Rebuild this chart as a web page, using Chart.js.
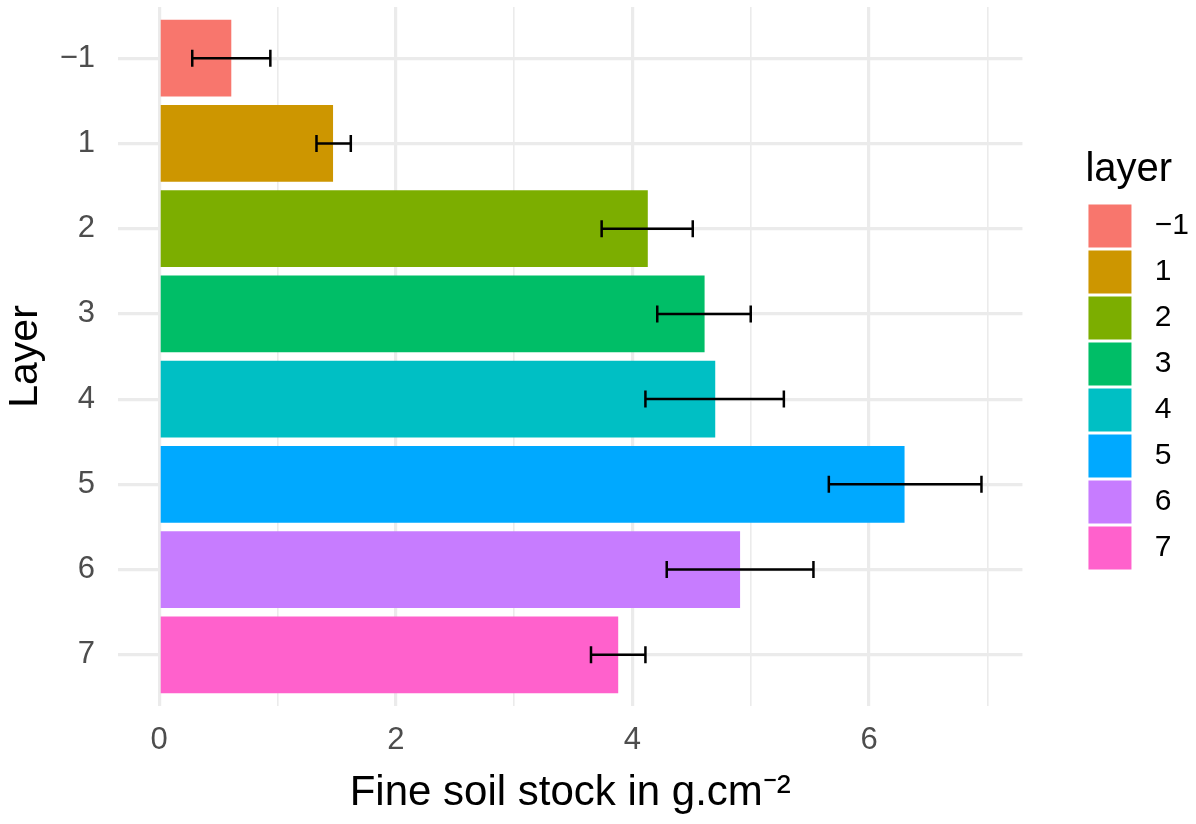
<!DOCTYPE html>
<html>
<head>
<meta charset="utf-8">
<script src="https://cdn.jsdelivr.net/npm/chart.js@4"></script>
<style>
  html, body { margin: 0; padding: 0; background: #fff; }
  #wrap { width: 1196px; height: 824px; }
</style>
</head>
<body>
<div id="wrap"><canvas id="stockChart"></canvas></div>
<script>
// Fine soil stock per layer, mean with error bars

const layers = ['\u22121', '1', '2', '3', '4', '5', '6', '7'];
const stock = [0.61, 1.47, 4.13, 4.61, 4.70, 6.30, 4.91, 3.88];
const errLow = [0.28, 1.33, 3.74, 4.21, 4.11, 5.66, 4.29, 3.65];
const errHigh = [0.94, 1.62, 4.51, 5.00, 5.28, 6.95, 5.53, 4.11];
const xTicks = [0, 1, 2, 3, 4, 5, 6, 7];
const colors = ['#F8766D', '#CD9600', '#7CAE00', '#00BE67', '#00BFC4', '#00A9FF', '#C77CFF', '#FF61CC'];

const FONT = "'Liberation Sans', Arial, sans-serif";
const GRID = '#EBEBEB';

// draws the horizontal error bars on top of the bars
const errorBars = {
  id: 'errorBars',
  afterDatasetsDraw(chart) {
    const { ctx, scales: { x, y } } = chart;
    ctx.save();
    ctx.strokeStyle = '#000';
    ctx.lineWidth = 2.5;
    for (let i = 0; i < layers.length; i++) {
      const x0 = x.getPixelForValue(errLow[i]);
      const x1 = x.getPixelForValue(errHigh[i]);
      const yc = y.getPixelForValue(i);
      ctx.beginPath();
      ctx.moveTo(x0, yc); ctx.lineTo(x1, yc);
      ctx.moveTo(x0, yc - 8.5); ctx.lineTo(x0, yc + 8.5);
      ctx.moveTo(x1, yc - 8.5); ctx.lineTo(x1, yc + 8.5);
      ctx.stroke();
    }
    ctx.restore();
  }
};

document.addEventListener('DOMContentLoaded', () => {
  const el = document.getElementById('stockChart');
  if (!el) return;

  new Chart(el, {
    type: 'bar',
    data: {
      datasets: [{
        label: 'layer',
        data: stock.map((v, i) => ({ x: v, y: i })),
        backgroundColor: colors,
        borderWidth: 0,
        barPercentage: 0.9,
        categoryPercentage: 1
      }]
    },
    plugins: [errorBars],
    options: {
      indexAxis: 'y',
      responsive: true,
      maintainAspectRatio: false,
      animation: false,
      layout: { padding: { left: 0, right: -3, top: 7, bottom: 0 } },
      plugins: {
        tooltip: { enabled: false },
        legend: {
          position: 'right',
          fullSize: false,
          align: 'center',
          title: {
            display: true,
            text: 'layer',
            position: 'start',
            color: '#000',
            font: { family: FONT, size: 40 },
            padding: { top: 9, bottom: 4 }
          },
          labels: {
            boxWidth: 43,
            boxHeight: 43,
            padding: 3,
            color: '#000',
            font: { family: FONT, size: 30 },
            generateLabels: () => layers.map((l, i) => ({
              text: ' ' + l,
              fillStyle: colors[i],
              strokeStyle: colors[i],
              lineWidth: 0,
              hidden: false,
              index: i
            }))
          }
        }
      },
      scales: {
        x: {
          type: 'linear',
          offset: false,
          min: -0.3475,
          max: 7.2965,
          afterBuildTicks: s => { s.ticks = xTicks.map(v => ({ value: v })); },
          afterFit: s => { s.height = 118; s.paddingLeft = 0; s.paddingRight = 0; },
          ticks: {
            autoSkip: false,
            maxRotation: 0,
            padding: 16,
            color: '#4D4D4D',
            font: { family: FONT, size: 31 },
            callback: v => (v % 2 === 0 ? v : '')
          },
          grid: {
            color: GRID,
            drawTicks: false,
            offset: false,
            lineWidth: c => (c.tick && c.tick.value % 2 === 0 ? 3.2 : 1.6)
          },
          border: { display: false },
          title: {
            display: true,
            text: 'Fine soil stock in g.cm\u207B\u00B2',
            color: '#000',
            font: { family: FONT, size: 42 },
            padding: { top: 0, bottom: 5 }
          }
        },
        y: {
          type: 'linear',
          offset: false,
          reverse: true,
          min: -0.6,
          max: 7.6,
          afterBuildTicks: s => { s.ticks = layers.map((_, i) => ({ value: i })); },
          afterFit: s => { s.width = 118; s.paddingTop = 0; s.paddingBottom = 0; },
          ticks: {
            autoSkip: false,
            padding: 23,
            color: '#4D4D4D',
            font: { family: FONT, size: 31 },
            callback: v => layers[v]
          },
          grid: { color: GRID, lineWidth: 3.2, drawTicks: false, offset: false },
          border: { display: false },
          title: {
            display: true,
            text: 'Layer',
            color: '#000',
            font: { family: FONT, size: 41 },
            padding: { top: 1, bottom: 0 }
          }
        },
        gap: {
          type: 'linear',
          axis: 'y',
          position: 'right',
          afterFit: s => { s.width = 63; s.paddingTop = 0; s.paddingBottom = 0; },
          ticks: { display: false },
          grid: { display: false },
          border: { display: false }
        }
      }
    }
  });
});
</script>
</body>
</html>
